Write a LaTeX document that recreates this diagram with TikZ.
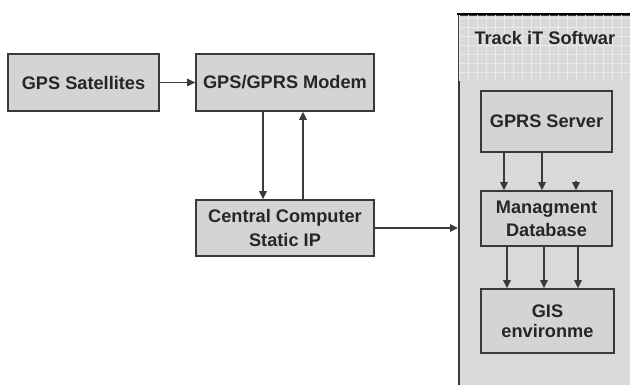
\documentclass[tikz,border=0pt]{standalone}
\usepackage{fontspec}
\setmainfont{Liberation Sans}
\usepackage{tikz}
\usetikzlibrary{arrows.meta}
\definecolor{boxgray}{HTML}{D4D4D4}
\definecolor{panelgray}{HTML}{D9D9D9}
\definecolor{linegray}{HTML}{3A3A3A}
\tikzset{
	unit/.style={draw=linegray, line width=1.6pt, fill=boxgray, align=center, font=\fontsize{18.2}{24}\selectfont\bfseries, text=black!85, inner sep=0pt},
	flow/.style={-{Triangle[length=8pt, width=7.5pt]}, line width=1.6pt, draw=linegray}
}

\begin{document}
\begin{tikzpicture}[x=1pt, y=-1pt]
		\useasboundingbox (0,0) rectangle (630,384);
		\clip (0,0) rectangle (630,384);
		
		% software panel
		\node (sw) [draw=linegray, line width=1.6pt, fill=panelgray, minimum width=180pt, minimum height=380pt, anchor=north west, inner sep=0pt] at (458,14) {};
		\begin{scope}
			\clip (459,15) rectangle (630,80);
			\draw [white!45!panelgray, line width=0.7pt, step=9pt] (456,12) grid (632,82);
		\end{scope}
		\draw [black, line width=2.8pt] (457,14) -- (632,14);
		\node [anchor=west, font=\fontsize{18.2}{22}\selectfont\bfseries, text=black!85] (title) at (471,38) {Track iT Softwar};
		
		% left side
		\node [unit, minimum width=151pt, minimum height=57pt] (sat) at (83.5,82.5) {GPS Satellites};
		\node [unit, minimum width=178pt, minimum height=57pt] (modem) at (285,82.5) {GPS/GPRS Modem};
		\node [unit, minimum width=178pt, minimum height=56pt] (cc) at (285,228) {Central Computer\\Static IP};
		
		% inside the panel
		\node [unit, minimum width=131pt, minimum height=61pt] (srv) at (546.5,121.5) {GPRS Server};
		\node [unit, minimum width=131pt, minimum height=55pt, font=\fontsize{18.2}{23}\selectfont\bfseries] (db) at (546.5,218.5) {Managment\\Database};
		\node [unit, minimum width=133pt, minimum height=64pt, font=\fontsize{18.2}{20}\selectfont\bfseries] (gis) at (547.5,321) {GIS\\environme};
		
		\draw [flow] (sat) -- (modem);
		\draw [flow] (modem.south -| 263,0) -- (cc.north -| 263,0);
		\draw [flow] (cc.north -| 303,0) -- (modem.south -| 303,0);
		\draw [flow] (cc.east) -- (cc.east -| sw.west);
		
		\draw [flow] (srv.south -| 504,0) -- (db.north -| 504,0);
		\draw [flow] (srv.south -| 542,0) -- (db.north -| 542,0);
		\coordinate (tick) at (576,181);
		\draw [flow] (tick) -- (db.north -| tick);
		
		\foreach \x in {507,544,578}
			\draw [flow] (db.south -| \x,0) -- (gis.north -| \x,0);
	\end{tikzpicture}
\end{document}
